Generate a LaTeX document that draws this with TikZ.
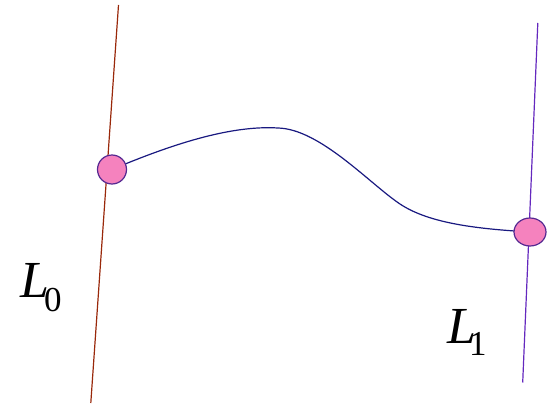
\documentclass[tikz,border=0pt]{standalone}
\usepackage{fontspec}
\setmainfont{Liberation Serif}
\usetikzlibrary{shapes.geometric}
\definecolor{brownline}{RGB}{153,40,10}
\definecolor{purpleline}{RGB}{100,40,190}
\definecolor{curvenavy}{RGB}{25,25,128}
\definecolor{dotfill}{RGB}{245,130,190}
\definecolor{dotdraw}{RGB}{85,40,145}
\pgfdeclarelayer{bg}
\pgfsetlayers{bg,main}
\tikzset{
  axisline/.style={line width=1.2pt},
  dotnode/.style={ellipse, draw=dotdraw, fill=dotfill, line width=1.2pt, inner sep=0pt},
  biglab/.style={inner sep=0pt, anchor=base west, font=\fontsize{52}{52}\selectfont\itshape},
  sublab/.style={inner sep=0pt, anchor=base west, font=\fontsize{35}{35}\selectfont},
}
\begin{document}
\begin{tikzpicture}[x=1pt,y=-1pt]
\useasboundingbox (0,0) rectangle (553,404);
% lines
\begin{pgfonlayer}{bg}
\draw[axisline, draw=brownline] (118.5,5) -- (90.8,403);
\draw[axisline, draw=purpleline] (537.8,23) -- (522.7,382.5);
\end{pgfonlayer}
% dots
\node[dotnode, minimum width=29pt, minimum height=29pt] (d1) at (112,169.5) {};
\node[dotnode, minimum width=32pt, minimum height=28pt] (d2) at (530,232) {};
% curve
\begin{pgfonlayer}{bg}
\draw[line width=1.2pt, draw=curvenavy] (d1.center) .. controls (170,145) and (230,125) .. (278,128)
  .. controls (320,129) and (370,184) .. (400,204)
  .. controls (430,224) and (480,229) .. (d2.center);
\end{pgfonlayer}
% labels
\node[biglab] (L0) at (20,297) {L};
\node[sublab] (s0) at (44,311) {0};
\node[biglab] (L1) at (447,343) {L};
\node[sublab] (s1) at (469,355) {1};
\end{tikzpicture}
\end{document}
